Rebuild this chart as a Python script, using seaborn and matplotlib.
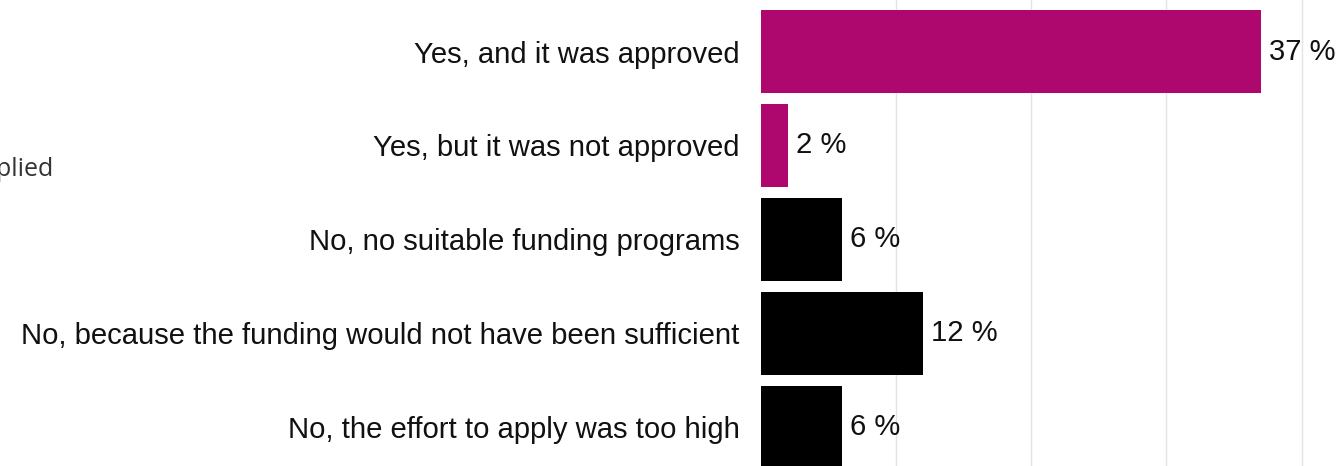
import matplotlib
matplotlib.use("Agg")
import matplotlib.pyplot as plt
import seaborn as sns
import pandas as pd

# Survey answers: did the company apply for public funding?
answers = [
    "Yes, and it was approved",
    "Yes, but it was not approved",
    "No, no suitable funding programs",
    "No, because the funding would not have been sufficient",
    "No, the effort to apply was too high",
]
shares = [37, 2, 6, 12, 6]
groups = ["Applied", "Applied", "Not applied", "Not applied", "Not applied"]

group_colors = {"Applied": "#AE076E", "Not applied": "#000000"}

df = pd.DataFrame({"answer": answers, "share": shares, "group": groups})

sns.set_theme(style="white")
plt.rcParams["font.family"] = ["Liberation Sans", "DejaVu Sans"]

fig = plt.figure(figsize=(13.38, 4.66), dpi=100)
ax = fig.add_axes([761 / 1338, 0.0, 1 - 761 / 1338, 1.0])

sns.barplot(
    data=df, x="share", y="answer", hue="group", palette=group_colors,
    orient="h", width=0.89, dodge=False, legend=False, ax=ax,
    edgecolor="none", saturation=1,
)

ax.set_xlim(0, 42.7)
ax.set_ylim(4.41, -0.548)
ax.set_xticks([10, 20, 30, 40])
ax.xaxis.grid(True, color="#E3E3E3", linewidth=1)
ax.set_axisbelow(True)
ax.tick_params(axis="x", bottom=False, labelbottom=False)
ax.tick_params(axis="y", left=False, pad=9.5, labelsize=21.1, labelcolor="#111111")
ax.set_xlabel("")
ax.set_ylabel("")
for s in ax.spines.values():
    s.set_visible(False)

for i, v in enumerate(shares):
    ax.text(v + 0.6, i, f"{v} %", va="center", ha="left",
            fontsize=21.1, color="#111111")

# Legend label at the left margin
fig.text(53 / 1338, 1 - 176 / 466, "Applied", ha="right", va="baseline",
         fontsize=18, color="#333333", family=["Open Sans", "DejaVu Sans"])

fig.savefig("out.png", dpi=100)
